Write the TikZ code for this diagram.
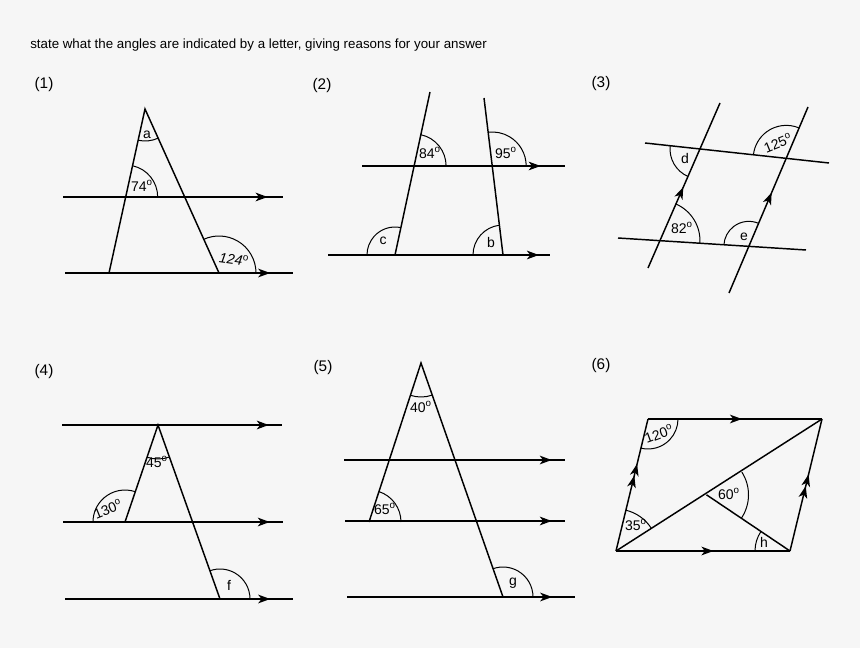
\documentclass[tikz,border=0pt]{standalone}
\usepackage{fontspec}
\setmainfont{Liberation Sans}
\usetikzlibrary{arrows.meta,decorations.markings}
\newcommand\angarc[4]{\draw[line width=0.75pt] (#1) ++(#2:#4) arc[start angle=#2,end angle=#3,radius=#4*0.75pt];}
\newcommand\dg{\textsuperscript{o}}
\tikzset{
 ln/.style={line width=1.1pt},
 marr/.style={postaction=decorate,decoration={markings,mark=at position #1 with {\arrow{Stealth[length=9pt,width=6.5pt,inset=2.5pt]}}}},
 darr/.style={postaction=decorate,decoration={markings,mark=at position #1 with {\arrow{Stealth[length=9pt,width=6.5pt,inset=2.5pt] Stealth[length=9pt,width=6.5pt,inset=2.5pt]}}}},
 lab/.style={font=\fontsize{10.5}{12}\selectfont,inner sep=0pt},
 num/.style={font=\fontsize{11.5}{13}\selectfont,inner sep=0pt},
}
\begin{document}
\begin{tikzpicture}[x=0.75pt,y=0.75pt]
\fill[white!96.5!black] (0,0) rectangle (860,-648);
\useasboundingbox (0,0) rectangle (860,-648);
\node[anchor=west,inner sep=0pt,font=\fontsize{10}{12}\selectfont] (title) at (30,-45) {state what the angles are indicated by a letter, giving reasons for your answer};
\node[num] (n1) at (44,-85) {(1)};
\node[num] (n2) at (322,-86) {(2)};
\node[num] (n3) at (601,-84) {(3)};
\node[num] (n4) at (44,-372) {(4)};
\node[num] (n5) at (323,-368) {(5)};
\node[num] (n6) at (601,-366) {(6)};

% ---- (1)
\coordinate (a1) at (145,-109); \coordinate (l1) at (109,-273); \coordinate (r1) at (219,-273);
\coordinate (h1s) at (63,-197); \coordinate (h1e) at (283,-197);
\coordinate (h2s) at (65,-273); \coordinate (h2e) at (293,-273);
\draw[ln] (l1) -- (a1) -- (r1);
\draw[ln,marr=0.93] (h1s) -- (h1e);
\draw[ln,marr=0.9] (h2s) -- (h2e);
\coordinate (p1) at (intersection of l1--a1 and h1s--h1e);
\angarc{a1}{257.6}{294.3}{32}
\angarc{p1}{0}{77.6}{32}
\angarc{r1}{0}{114.3}{37}
\node[lab] (la) at (147,-135) {a};
\node[lab] (l74) at (142,-186) {74\dg};
\node[lab,rotate=-8] (l124) at (234,-259) {\textit{124}\dg};

% ---- (2)
\coordinate (A2t) at (430,-92); \coordinate (A2b) at (395,-255);
\coordinate (B2t) at (484,-98); \coordinate (B2b) at (503,-255);
\coordinate (h3s) at (362,-166); \coordinate (h3e) at (565,-166);
\coordinate (h4s) at (328,-255); \coordinate (h4e) at (550,-255);
\draw[ln] (A2t) -- (A2b); \draw[ln] (B2t) -- (B2b);
\draw[ln,marr=0.88] (h3s) -- (h3e);
\draw[ln,marr=0.95] (h4s) -- (h4e);
\coordinate (p2) at (intersection of A2t--A2b and h3s--h3e);
\coordinate (q2) at (intersection of B2t--B2b and h3s--h3e);
\angarc{p2}{0}{77.9}{32}
\angarc{q2}{0}{96.9}{34}
\angarc{A2b}{77.9}{180}{28}
\angarc{B2b}{96.9}{180}{30}
\node[lab] (l84) at (430,-153) {84\dg};
\node[lab] (l95) at (506,-153) {95\dg};
\node[lab] (lc) at (383,-241) {c};
\node[lab] (lb) at (491,-242) {b};

% ---- (3)
\coordinate (L1b) at (648,-268); \coordinate (L1t) at (720,-103);
\coordinate (L2b) at (729,-293); \coordinate (L2t) at (808,-107);
\coordinate (Ts) at (645,-143); \coordinate (Te) at (829,-163);
\coordinate (Bs) at (618,-238); \coordinate (Be) at (806,-250);
\draw[ln,marr=0.49] (L1b) -- (L1t);
\draw[ln,marr=0.54] (L2b) -- (L2t);
\draw[ln] (Ts) -- (Te); \draw[ln] (Bs) -- (Be);
\coordinate (pd) at (intersection of L1b--L1t and Ts--Te);
\coordinate (pc) at (intersection of L2b--L2t and Ts--Te);
\coordinate (pa) at (intersection of L1b--L1t and Bs--Be);
\coordinate (pe) at (intersection of L2b--L2t and Bs--Be);
\angarc{pd}{173.8}{246.4}{30}
\angarc{pc}{67}{173.8}{33}
\angarc{pa}{-3.65}{66.4}{40}
\angarc{pe}{67}{176.35}{25}
\node[lab] (ld) at (685,-158) {d};
\node[lab,rotate=22] (l125) at (778,-143) {125\dg};
\node[lab] (l82) at (682,-228) {82\dg};
\node[lab] (le) at (744,-237) {e};

% ---- (4)
\coordinate (a4) at (158,-425); \coordinate (l4) at (125,-522); \coordinate (r4) at (220,-599);
\draw[ln,marr=0.94] (62,-425) coordinate (h5s) -- (282,-425) coordinate (h5e);
\draw[ln,marr=0.94] (63,-522) coordinate (h6s) -- (283,-522) coordinate (h6e);
\draw[ln,marr=0.9] (65,-599) coordinate (h7s) -- (293,-599) coordinate (h7e);
\draw[ln] (l4) -- (a4) -- (r4);
\angarc{a4}{251.2}{289.6}{34}
\angarc{l4}{71.2}{180}{32}
\angarc{r4}{0}{109.6}{30}
\node[lab] (l45) at (157,-462) {45\dg};
\node[lab,rotate=22] (l130) at (108,-509) {130\dg};
\node[lab] (lf) at (229,-585) {f};

% ---- (5)
\coordinate (a5) at (421,-363); \coordinate (l5) at (369,-522); \coordinate (r5) at (503,-597);
\draw[ln,marr=0.94] (344,-460) coordinate (h8s) -- (565,-460) coordinate (h8e);
\draw[ln,marr=0.94] (345,-521) coordinate (h9s) -- (565,-521) coordinate (h9e);
\draw[ln,marr=0.9] (347,-597) coordinate (h10s) -- (575,-597) coordinate (h10e);
\draw[ln] (l5) -- (a5) -- (r5);
\angarc{a5}{251.9}{289.3}{34}
\angarc{l5}{0}{71.9}{32}
\angarc{r5}{0}{109.3}{30}
\node[lab] (l40) at (421,-407) {40\dg};
\node[lab] (l65) at (385,-509) {65\dg};
\node[lab] (lg) at (513,-583) {g};

% ---- (6)
\coordinate (A6) at (616,-551); \coordinate (B6) at (648,-419);
\coordinate (C6) at (822,-419); \coordinate (D6) at (790,-551);
\coordinate (P6) at (706.5,-494.8);
\draw[ln,darr=0.66] (A6) -- (B6);
\draw[ln,marr=0.54] (B6) -- (C6);
\draw[ln,darr=0.58] (D6) -- (C6);
\draw[ln,marr=0.56] (A6) -- (D6);
\draw[ln] (A6) -- (C6);
\draw[ln] (P6) -- (D6);
\angarc{B6}{256.4}{360}{30}
\angarc{A6}{32.65}{76.4}{42}
\angarc{P6}{-34}{32.65}{42}
\angarc{D6}{146}{180}{35}
\node[lab,rotate=20] (l120) at (659,-434) {120\dg};
\node[lab] (l35) at (636,-525) {35\dg};
\node[lab] (l60) at (729,-494) {60\dg};
\node[lab] (lh) at (764,-542) {h};
\end{tikzpicture}
\end{document}
